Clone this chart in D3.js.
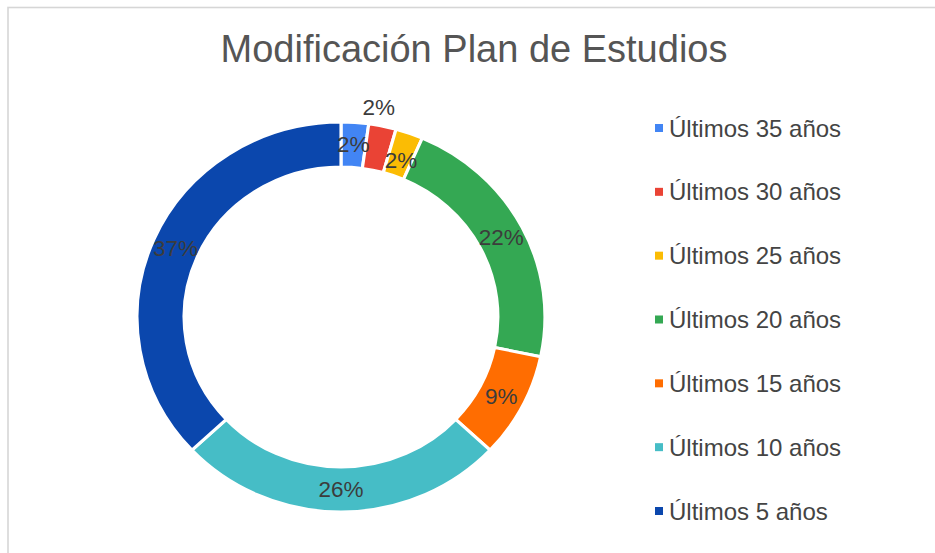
<!DOCTYPE html>
<html>
<head>
<meta charset="utf-8">
<script src="https://cdn.jsdelivr.net/npm/d3@7"></script>
<style>
  html, body { margin: 0; padding: 0; background: #fff; }
  svg { display: block; font-family: "Liberation Sans", Arial, sans-serif; }
</style>
</head>
<body>
<svg id="chart" width="935" height="553"></svg>
<script>
const title = "Modificación Plan de Estudios";
const categories = ["Últimos 35 años", "Últimos 30 años", "Últimos 25 años", "Últimos 20 años", "Últimos 15 años", "Últimos 10 años", "Últimos 5 años"];
const counts = [1, 1, 1, 10, 4, 12, 17];
const colors = ["#4285f4", "#ea4335", "#fbbc04", "#34a853", "#ff6d01", "#46bdc6", "#0b47ad"];

const svg = d3.select("#chart");

// frame
svg.append("rect").attr("x", 8).attr("y", 7.5).attr("width", 1000).attr("height", 1000)
  .attr("fill", "#fff").attr("stroke", "#d6d6d6").attr("stroke-width", 1.6);

// title
svg.append("text").attr("x", 474).attr("y", 62).attr("text-anchor", "middle")
  .attr("font-size", 38).attr("fill", "#555").text(title);

const cx = 341, cy = 317, sx = 1.046;
const rOuter = 195, rInner = 150;
const total = d3.sum(counts);
const pie = d3.pie().sort(null).value(d => d);
const arcs = pie(counts);
const arc = d3.arc().innerRadius(rInner).outerRadius(rOuter);
const color = d3.scaleOrdinal().domain(categories).range(colors);

const g = svg.append("g").attr("transform", `translate(${cx},${cy}) scale(${sx},1)`);
g.selectAll("path").data(arcs).enter().append("path")
  .attr("d", arc)
  .attr("fill", (d, i) => color(categories[i]))
  .attr("stroke", "#fff").attr("stroke-width", 3).attr("stroke-linejoin", "miter");

// labels
const labelPos = (d, i) => {
  const a = (d.startAngle + d.endAngle) / 2;
  let r = (rInner + rOuter) / 2;
  let ang = a;
  if (i === 1) { r = rOuter + 18; ang = a - 0.035; }
  if (i === 2) { r = r - 6; ang = a + 0.01; }
  return [cx + sx * r * Math.sin(ang), cy - r * Math.cos(ang)];
};
svg.selectAll("text.lbl").data(arcs).enter().append("text")
  .attr("class", "lbl")
  .attr("x", (d, i) => labelPos(d, i)[0])
  .attr("y", (d, i) => labelPos(d, i)[1])
  .attr("text-anchor", "middle").attr("dominant-baseline", "central")
  .attr("font-size", 22.5).attr("fill", "#3c3c3c")
  .text(d => Math.round(d.value / total * 100) + "%");

// legend
const ly = d3.scalePoint().domain(categories).range([128, 511]);
const leg = svg.selectAll("g.leg").data(categories).enter().append("g")
  .attr("class", "leg").attr("transform", d => `translate(655,${ly(d)})`);
leg.append("rect").attr("x", 0).attr("y", -4).attr("width", 8).attr("height", 8)
  .attr("fill", d => color(d));
leg.append("text").attr("x", 14).attr("y", 0).attr("dominant-baseline", "central")
  .attr("font-size", 24).attr("fill", "#444").text(d => d);
</script>
</body>
</html>
